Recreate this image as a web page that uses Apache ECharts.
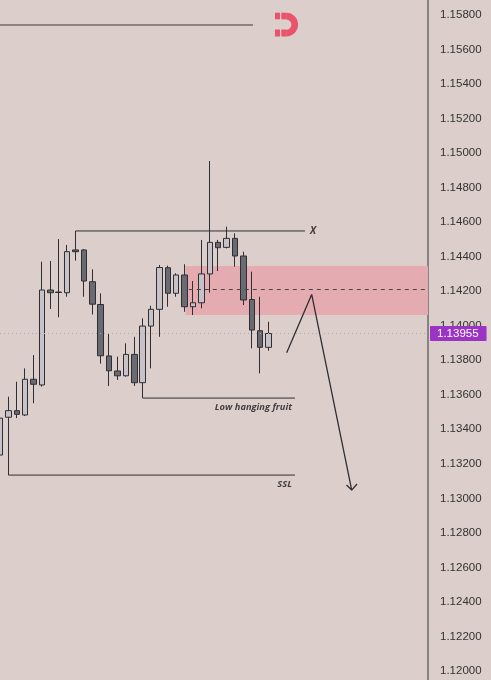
<!DOCTYPE html>
<html><head><meta charset="utf-8">
<script src="https://cdn.jsdelivr.net/npm/echarts@6/dist/echarts.min.js"></script>
<style>html,body{margin:0;padding:0;background:#dccfcb;}#c{width:491px;height:680px;}</style>
</head><body><div id="c"></div>
<script>
// ---- data ----
const slotCount = 52; // candle slots incl. empty future space
const categories = Array.from({length: slotCount}, (_, i) => String(i + 1));
const opens  = [1.13251,1.13470,1.13508,1.13483,1.13690,1.13657,1.14207,1.14195,1.14191,1.14439,1.14439,1.14255,1.14123,1.13825,1.13738,1.13710,1.13834,1.13670,1.13998,1.14095,1.14336,1.14188,1.14294,1.14110,1.14133,1.14300,1.14483,1.14454,1.14506,1.14404,1.14152,1.13971,1.13875];
const closes = [1.13465,1.13508,1.13487,1.13690,1.13661,1.14207,1.14191,1.14193,1.14429,1.14429,1.14259,1.14125,1.13826,1.13739,1.13710,1.13834,1.13670,1.13998,1.14095,1.14337,1.14188,1.14294,1.14110,1.14133,1.14300,1.14483,1.14452,1.14506,1.14404,1.14149,1.13975,1.13875,1.13955];
const lows   = [1.13222,1.13135,1.13465,1.13477,1.13551,1.13647,1.14097,1.14049,1.14168,1.14377,1.14168,1.14065,1.13780,1.13651,1.13686,1.13705,1.13651,1.13581,1.13753,1.13936,1.14110,1.14168,1.14081,1.14062,1.14101,1.14191,1.14317,1.14448,1.14342,1.14120,1.13869,1.13724,1.13855];
const highs  = [1.13587,1.13589,1.13676,1.13753,1.13830,1.14371,1.14375,1.14502,1.14468,1.14549,1.14444,1.14327,1.14188,1.13952,1.13821,1.13898,1.13936,1.14043,1.14116,1.14352,1.14348,1.14304,1.14356,1.14259,1.14497,1.14954,1.14497,1.14574,1.14535,1.14429,1.14313,1.14168,1.14023];
const lastPrice = 1.13955;
const yMin = 1.12000, yMax = 1.15800, yStep = 0.002;

// annotations (x = slot index, y = price)
const topLine  = [[0, 1.15742], [30.15, 1.15742]];
const xLine    = [[9, 1.14549], [36.34, 1.14549]];
const lhfLine  = [[17, 1.13581], [35.15, 1.13581]];
const sslLine  = [[1, 1.13135], [35.15, 1.13135]];
const arrowPath = [[34.16, 1.13844], [37.14, 1.14181], [41.91, 1.13048]];
const arrowHead = [[41.29, 1.13077], [41.91, 1.13048], [42.54, 1.13083]];
const zoneStart = 22.1, zoneTop = 1.14346, zoneBottom = 1.14062;
const midLevel = 1.14210, midStart = 22.5;
const notes = [
  {text: 'X', x: 37.3, y: 1.14549, pos: 'inside', size: 10},
  {text: 'Low hanging fruit', x: 34.85, y: 1.13529, pos: 'left', size: 9.3},
  {text: 'SSL', x: 34.85, y: 1.13083, pos: 'left', size: 9.3}
];

// ---- chart ----
const chart = echarts.init(document.getElementById('c'), null, {renderer: 'canvas'});
const ink = '#2f2e32';
function seg(pts, extra) {
  return Object.assign({
    type: 'line', xAxisIndex: 1, yAxisIndex: 0, data: pts, symbol: 'none', silent: true,
    animation: false, z: 3, lineStyle: {color: ink, width: 1}
  }, extra || {});
}
const option = {
  backgroundColor: '#dccfcb',
  animation: false,
  grid: [
    {left: 0, right: 63, top: 15, bottom: 9, containLabel: false},
    {left: 0, right: 63, top: 0, bottom: 0, containLabel: false}
  ],
  xAxis: [
    {type: 'category', data: categories, boundaryGap: false, show: false},
    {type: 'value', min: 0, max: slotCount - 1, show: false},
    {type: 'value', gridIndex: 1, min: 0, max: 1, show: false}
  ],
  yAxis: [
    {
      type: 'value', position: 'right', min: yMin, max: yMax, interval: yStep,
      axisLine: {show: false}, axisTick: {show: false}, splitLine: {show: false},
      axisLabel: {margin: 12, color: '#333', fontSize: 11.5, fontFamily: 'Liberation Sans',
        formatter: v => v.toFixed(5)}
    },
    {
      type: 'value', gridIndex: 1, position: 'right', min: 0, max: 1,
      axisLine: {show: true, onZero: false, lineStyle: {color: '#6e6969', width: 1.5}},
      axisTick: {show: false}, splitLine: {show: false}, axisLabel: {show: false}
    }
  ],
  series: [
    seg([], {
      z: 1,
      markArea: {silent: true, itemStyle: {color: '#e4acb0'},
        data: [[{coord: [zoneStart, zoneTop]}, {coord: [slotCount - 1, zoneBottom]}]]},
      markLine: {silent: true, symbol: 'none', animation: false,
        lineStyle: {type: [4, 4], color: '#4a4446', width: 1},
        label: {show: false},
        data: [[{coord: [midStart, midLevel]}, {coord: [slotCount - 1, midLevel]}]]}
    }),
    seg([], {
      z: 1,
      markLine: {silent: true, symbol: 'none', animation: false,
        lineStyle: {type: [1, 3], color: '#b3a8a8', width: 1},
        label: {show: true, position: 'end', distance: 2, formatter: lastPrice.toFixed(5),
          backgroundColor: '#9b33c4', color: '#fff', padding: [2, 8, 1, 7], fontSize: 11.5,
          fontFamily: 'Liberation Sans', borderRadius: 1},
        data: [[{coord: [0, lastPrice]}, {coord: [slotCount - 1, lastPrice]}]]}
    }),
    {
      type: 'candlestick', xAxisIndex: 0, yAxisIndex: 0, barWidth: 6, z: 2,
      data: opens.map((o, i) => [o, closes[i], lows[i], highs[i]]),
      itemStyle: {color: '#c6c2c8', color0: '#6a6a72', borderColor: ink, borderColor0: ink,
        borderColorDoji: ink, borderWidth: 1}
    },
    seg(topLine, {lineStyle: {color: '#3d393b', width: 1}}),
    seg(xLine),
    seg(lhfLine),
    seg(sslLine),
    seg(arrowPath, {lineStyle: {color: ink, width: 1.3}}),
    seg(arrowHead, {lineStyle: {color: ink, width: 1.3}}),
    {
      type: 'scatter', xAxisIndex: 1, yAxisIndex: 0, silent: true, animation: false, z: 4,
      symbolSize: 1, itemStyle: {color: 'transparent'},
      data: notes.map(n => ({value: [n.x, n.y], label: {show: true, position: n.pos, distance: 0,
        formatter: n.text, color: '#1a181a', fontSize: n.size, fontWeight: 'bold',
        fontStyle: 'italic', fontFamily: 'Open Sans'}}))
    }
  ],
  graphic: [{
    type: 'group', left: 275, top: 12.7, silent: true,
    children: [
      {type: 'rect', shape: {x: 0, y: 0, width: 5, height: 6.6}, style: {fill: '#e9536b'}},
      {type: 'rect', shape: {x: 0, y: 16.8, width: 5, height: 7}, style: {fill: '#e9536b'}},
      {type: 'rect', shape: {x: 6.3, y: 0, width: 5, height: 6.6}, style: {fill: '#e9536b'}},
      {type: 'rect', shape: {x: 6.3, y: 16.8, width: 5, height: 7}, style: {fill: '#e9536b'}},
      {type: 'sector', shape: {cx: 11.2, cy: 11.9, r: 11.9, r0: 5.2, startAngle: -Math.PI / 2, endAngle: Math.PI / 2, clockwise: true}, style: {fill: '#e9536b'}}
    ]
  }]
};
chart.setOption(option);
</script>
</body></html>
